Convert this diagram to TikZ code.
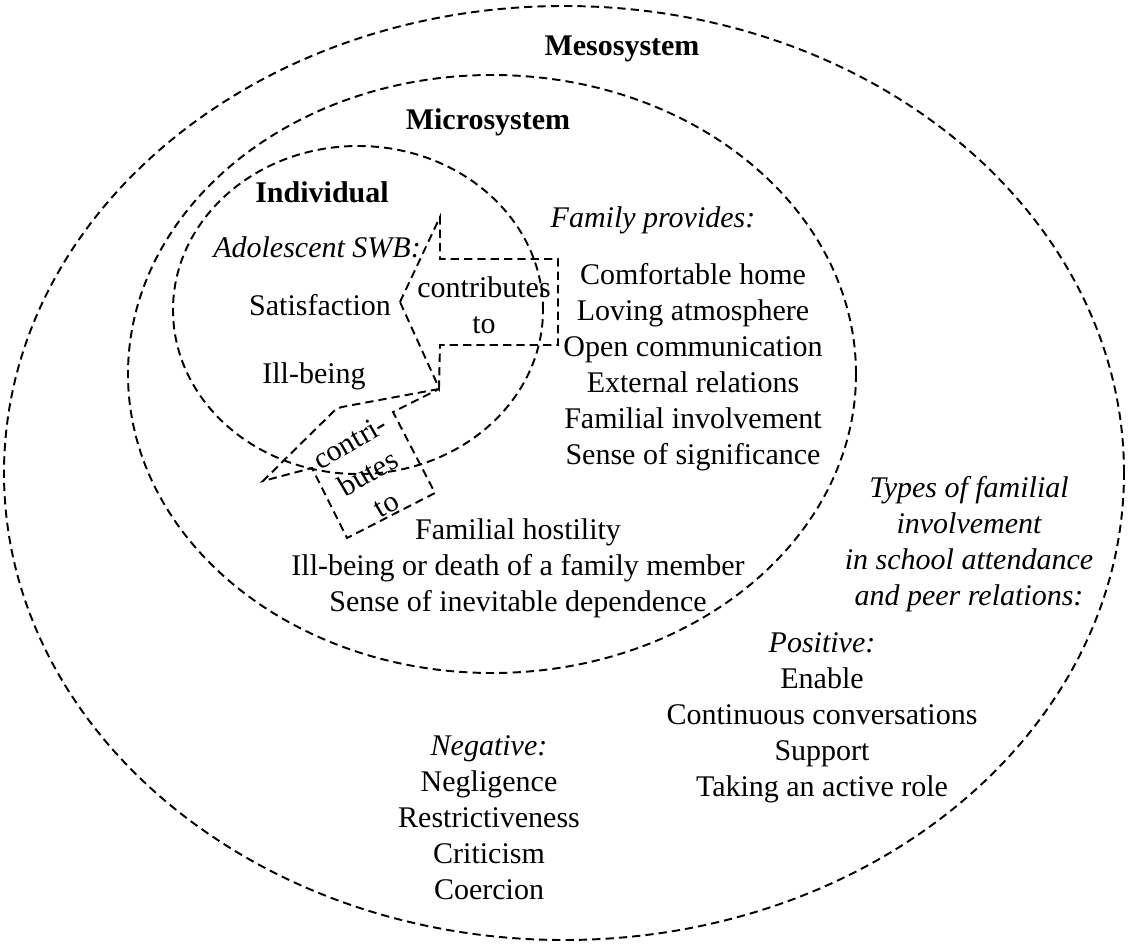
\documentclass[tikz,border=0pt]{standalone}
\usepackage{fontspec}
\setmainfont{Liberation Serif}
\usetikzlibrary{shapes.geometric}
\begin{document}
\begin{tikzpicture}[x=0.75pt,y=-0.75pt,
  dashline/.style={draw=black, line width=1.45pt, dash pattern=on 6.2pt off 3.8pt},
  ring/.style={dashline, ellipse, inner sep=0pt},
  lbl/.style={inner sep=0pt, align=center, font=\fontsize{22.5}{27}\selectfont},
  ttl/.style={inner sep=0pt, align=center, font=\fontsize{22.5}{27}\selectfont\bfseries},
  itl/.style={inner sep=0pt, align=center, font=\fontsize{22.5}{27}\selectfont\itshape}]
\useasboundingbox (0,0) rectangle (1128,944);

% nested systems
\node[ring, minimum width=840pt, minimum height=700.5pt] (meso) at (564,473) {};
\node[ring, minimum width=546pt, minimum height=448.5pt] (micro) at (492,374) {};
\node[ring, minimum width=277.5pt, minimum height=246pt] (indiv) at (358,310) {};

% system titles
\node[ttl] (mesotitle) at (622,49) {Mesosystem};
\node[ttl] (microtitle) at (488,122) {Microsystem};
\node[ttl] (indivtitle) at (322,192) {Individual};

% individual level
\node[itl] (swb) at (317,247) {Adolescent SWB:};
\node[lbl] (satis) at (320,305) {Satisfaction};
\node[lbl] (illb) at (314,376) {Ill-being};

% family contributes to satisfaction
\coordinate (a1tip) at (400,302);
\coordinate (a1top) at (440,217);
\coordinate (a1s1) at (440,259);
\coordinate (a1s2) at (558,259);
\coordinate (a1s3) at (558,345);
\coordinate (a1s4) at (440,345);
\coordinate (a1bot) at (439,388);
\draw[dashline] (a1tip) -- (a1top) -- (a1s1) -- (a1s2) -- (a1s3) -- (a1s4) -- (a1bot) -- cycle;
\node[lbl] (contrib1) at (484,305) {contributes\\to};

% family contributes to ill-being
\coordinate (a2back) at (439,389);
\coordinate (a2p1) at (347,406);
\coordinate (a2bend) at (337,408);
\coordinate (a2p2) at (330,415);
\coordinate (a2tip) at (263,481);
\coordinate (a2s4) at (312,468);
\coordinate (a2s3) at (347,538);
\coordinate (a2s2) at (435,493);
\coordinate (a2s1) at (393,412);
\draw[dashline] (a2back) -- (a2p1) .. controls (a2bend) .. (a2p2) -- (a2tip) -- (a2s4) -- (a2s3) -- (a2s2) -- (a2s1) -- cycle;
\node[lbl, rotate=30] (contrib2) at (368,473) {contri-\\butes\\to};

% microsystem: family
\node[itl] (famhead) at (653,220) {Family provides:};
\node[lbl] (famlist) at (693,367) {Comfortable home\\Loving atmosphere\\Open communication\\External relations\\Familial involvement\\Sense of significance};
\node[lbl] (famneg) at (518,568) {Familial hostility\\Ill-being or death of a family member\\Sense of inevitable dependence};

% mesosystem: familial involvement
\node[itl] (types) at (969,544) {Types of familial\\involvement\\in school attendance\\and peer relations:};
\node[lbl] (positive) at (822,718) {\textit{Positive:}\\Enable\\Continuous conversations\\Support\\Taking an active role};
\node[lbl] (negative) at (489,818) {\textit{Negative:}\\Negligence\\Restrictiveness\\Criticism\\Coercion};
\end{tikzpicture}
\end{document}
